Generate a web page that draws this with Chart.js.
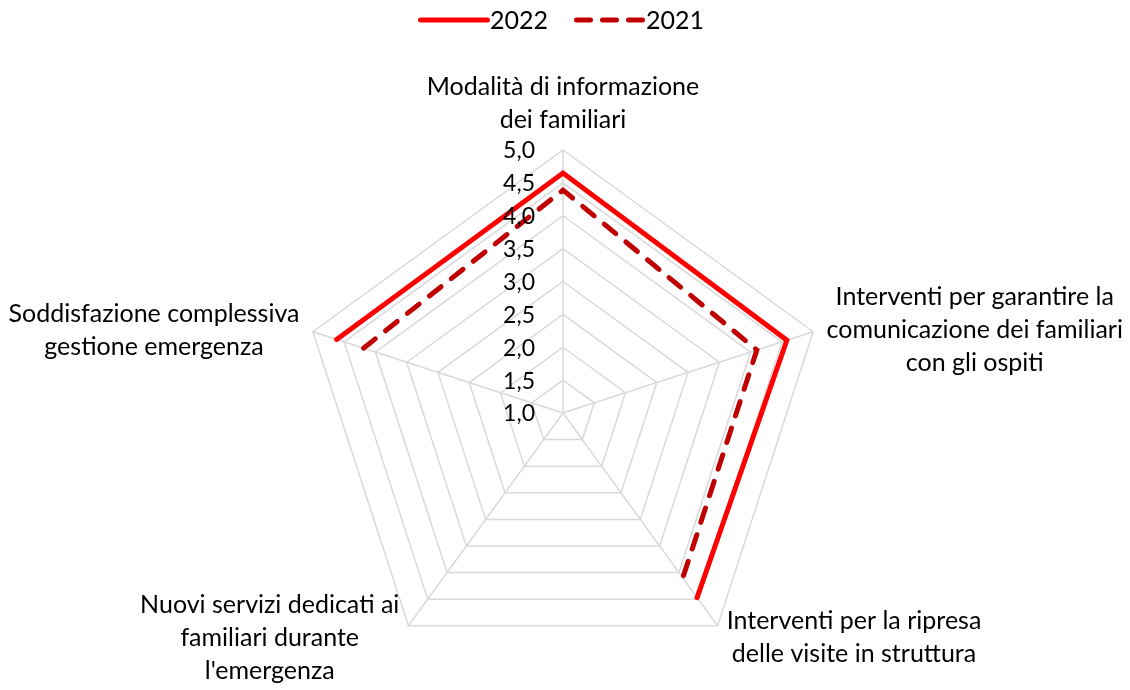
<!DOCTYPE html>
<html>
<head>
<meta charset="utf-8">
<script src="https://cdn.jsdelivr.net/npm/chart.js@4.4.4/dist/chart.umd.min.js"></script>
<style>
    html, body { margin: 0; padding: 0; background: #ffffff; }
    #wrap { width: 1130px; height: 690px; }
</style>
</head>
<body>
<div id="wrap"><canvas id="radar" width="1130" height="690"></canvas></div>
<script>
const categories = [
    ["Modalità di informazione", "dei familiari"],
    ["Interventi per garantire la", "comunicazione dei familiari", "con gli ospiti"],
    ["Interventi per la ripresa", "delle visite in struttura"],
    ["Nuovi servizi dedicati ai", "familiari durante", "l'emergenza"],
    ["Soddisfazione complessiva", "gestione emergenza"]
];
const values2022 = [4.65, 4.58, 4.47, null, 4.62];
const values2021 = [4.39, 4.10, 4.10, null, 4.19];
const tickLabels = ["1,0", "1,5", "2,0", "2,5", "3,0", "3,5", "4,0", "4,5", "5,0"];

const fontFamily = "Lato, 'Open Sans', sans-serif";
const labelFontSize = 25;
const tickFontSize = 23;
const lineHeight = 33;

// tick labels, category labels and legend, placed the way the spreadsheet does it
const excelLabels = {
    id: "excelLabels",
    afterDatasetsDraw(chart) {
        const scale = chart.scales.r;
        const ctx = chart.ctx;
        ctx.save();
        ctx.fillStyle = "#000000";
        ctx.textBaseline = "middle";

        ctx.font = `${tickFontSize}px ${fontFamily}`;
        ctx.textAlign = "right";
        scale.ticks.forEach(tick => {
            const y = scale.yCenter - scale.getDistanceFromCenterForValue(tick.value);
            ctx.fillText(tick.label, scale.xCenter - 28, y + 1);
        });

        ctx.font = `${labelFontSize}px ${fontFamily}`;
        categories.forEach((lines, i) => {
            const pos = scale.getPointPosition(i, scale.drawingArea + 12);
            const widths = lines.map(line => ctx.measureText(line).width);
            const boxWidth = Math.max(...widths);
            const boxHeight = lines.length * lineHeight;
            let centerX;
            let top;
            if (Math.abs(pos.x - scale.xCenter) < 1) {
                centerX = pos.x;
                top = pos.y - boxHeight - 2;
            } else if (pos.x > scale.xCenter) {
                centerX = pos.x + 2 + boxWidth / 2;
                top = pos.y - boxHeight / 2 + 2;
            } else {
                centerX = pos.x - 2 - boxWidth / 2;
                top = pos.y - boxHeight / 2 + 2;
            }
            ctx.textAlign = "center";
            lines.forEach((line, k) => {
                ctx.fillText(line, centerX, top + lineHeight * (k + 0.5));
            });
        });

        // legend
        const sampleWidth = 67;
        const textGap = 5;
        const itemGap = 26;
        const legendY = 20;
        const items = chart.data.datasets.map(ds => ({
            ds,
            textWidth: ctx.measureText(ds.label).width
        }));
        const total = items.reduce((sum, it) => sum + sampleWidth + textGap + it.textWidth, 0) + itemGap * (items.length - 1);
        let x = chart.width / 2 - 4 - total / 2;
        ctx.textAlign = "left";
        items.forEach(it => {
            ctx.save();
            ctx.strokeStyle = it.ds.borderColor;
            ctx.lineWidth = it.ds.borderWidth;
            ctx.lineCap = "round";
            ctx.setLineDash(it.ds.legendDash || []);
            ctx.beginPath();
            ctx.moveTo(x + 2.5, legendY);
            ctx.lineTo(x + sampleWidth + 2.5, legendY);
            ctx.stroke();
            ctx.restore();
            x += sampleWidth + textGap;
            ctx.fillText(it.ds.label, x, legendY + 1);
            x += it.textWidth + itemGap;
        });
        ctx.restore();
    }
};

new Chart(document.getElementById("radar"), {
    type: "radar",
    data: {
        labels: categories,
        datasets: [
            {
                label: "2022",
                data: values2022,
                borderColor: "#ff0000",
                backgroundColor: "#ff0000",
                borderWidth: 5,
                borderCapStyle: "round",
                borderJoinStyle: "miter",
                pointRadius: 0,
                pointHoverRadius: 0,
                fill: false,
                clip: false
            },
            {
                label: "2021",
                data: values2021,
                borderColor: "#c00000",
                backgroundColor: "#c00000",
                borderWidth: 5,
                borderDash: [15, 13],
                legendDash: [14, 12],
                borderCapStyle: "round",
                borderJoinStyle: "miter",
                pointRadius: 0,
                pointHoverRadius: 0,
                fill: false,
                clip: false
            }
        ]
    },
    options: {
        responsive: false,
        animation: false,
        events: [],
        devicePixelRatio: 1,
        scales: {
            r: {
                min: 1,
                max: 5,
                ticks: {
                    display: false,
                    stepSize: 0.5,
                    callback(value, index) {
                        return tickLabels[index];
                    }
                },
                grid: {
                    color: "#d9d9d9",
                    lineWidth: 1.5
                },
                angleLines: {
                    color: "#d9d9d9",
                    lineWidth: 1.5
                },
                pointLabels: {
                    display: false
                },
                afterFit(scale) {
                    scale.xCenter = 563;
                    scale.yCenter = 413;
                    scale.drawingArea = 263;
                }
            }
        },
        plugins: {
            legend: {
                display: false
            },
            tooltip: {
                enabled: false
            }
        }
    },
    plugins: [excelLabels]
});
</script>
</body>
</html>
